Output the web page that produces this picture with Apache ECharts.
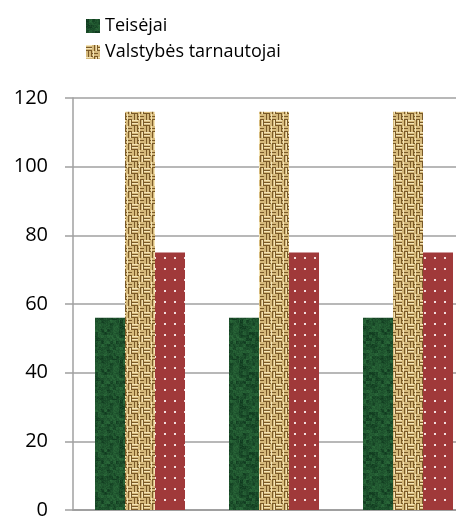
<!DOCTYPE html>
<html>
<head>
<meta charset="utf-8">
<script src="https://cdn.jsdelivr.net/npm/echarts@6/dist/echarts.min.js"></script>
<style>
  html, body { margin: 0; padding: 0; background: #fff; }
  #chart { width: 456px; height: 517px; }
</style>
</head>
<body>
<div id="chart"></div>
<script>
var categories = ['1', '2', '3'];
var teisejai = [56, 56, 56];
var valstybes = [116, 116, 116];
var kiti = [75, 75, 75];
var yTicks = [0, 20, 40, 60, 80, 100, 120];

// deterministic hash for texture noise
function hash(x, y) {
    var s = Math.sin(x * 12.9898 + y * 78.233) * 43758.5453;
    return s - Math.floor(s);
}

// green marble texture
function greenTile() {
    var c = document.createElement('canvas');
    c.width = 40; c.height = 40;
    var ctx = c.getContext('2d');
    for (var y = 0; y < 40; y++) {
        for (var x = 0; x < 40; x++) {
            var n = hash(Math.floor(x / 3), Math.floor(y / 3)) * 0.6 + hash(x, y) * 0.4;
            ctx.fillStyle = 'rgb(' + Math.round(15 + n * 30) + ',' + Math.round(55 + n * 55) + ',' + Math.round(30 + n * 30) + ')';
            ctx.fillRect(x, y, 1, 1);
        }
    }
    return c;
}

// tan woven texture
function tanTile() {
    var c = document.createElement('canvas');
    c.width = 12; c.height = 12;
    var ctx = c.getContext('2d');
    ctx.fillStyle = '#d6ba7c';
    ctx.fillRect(0, 0, 12, 12);
    ctx.fillStyle = '#7a5a28';
    ctx.fillRect(0, 2, 6, 1);
    ctx.fillRect(0, 5, 6, 1);
    ctx.fillRect(6, 8, 6, 1);
    ctx.fillRect(6, 11, 6, 1);
    ctx.fillRect(8, 0, 1, 6);
    ctx.fillRect(11, 0, 1, 6);
    ctx.fillRect(2, 6, 1, 6);
    ctx.fillRect(5, 6, 1, 6);
    ctx.fillStyle = '#f3e3b5';
    ctx.fillRect(0, 0, 6, 1);
    ctx.fillRect(0, 3, 6, 1);
    ctx.fillRect(7, 6, 1, 6);
    ctx.fillRect(10, 0, 1, 6);
    return c;
}

// red with white dots
function redTile() {
    var c = document.createElement('canvas');
    c.width = 10; c.height = 11;
    var ctx = c.getContext('2d');
    ctx.fillStyle = '#a0393a';
    ctx.fillRect(0, 0, 10, 11);
    ctx.fillStyle = '#f2dede';
    ctx.fillRect(4, 4, 2, 2);
    return c;
}

var chart = echarts.init(document.getElementById('chart'));
var gray = '#a0a0a0';

chart.setOption({
    animation: false,
    legend: {
        orient: 'vertical',
        left: 81,
        top: 12,
        itemWidth: 14,
        itemHeight: 14,
        itemGap: 8,
        icon: 'rect',
        data: ['Teisėjai', 'Valstybės tarnautojai'],
        textStyle: {
            fontFamily: 'Open Sans',
            fontSize: 18,
            color: '#000'
        }
    },
    grid: {
        left: 73,
        top: 98,
        width: 402,
        bottom: 7,
        outerBoundsMode: 'none',
        containLabel: false
    },
    xAxis: {
        type: 'category',
        data: categories,
        axisLine: { lineStyle: { color: gray, width: 2 } },
        axisTick: { show: false },
        axisLabel: { show: false }
    },
    yAxis: {
        type: 'value',
        min: 0,
        max: 120,
        interval: 20,
        axisLine: { show: true, lineStyle: { color: gray, width: 1.5 } },
        axisTick: { show: true, length: 8, lineStyle: { color: gray, width: 1.5 } },
        splitLine: { lineStyle: { color: gray, width: 1.5 } },
        axisLabel: {
            margin: 25,
            fontFamily: 'Open Sans',
            fontSize: 20,
            color: '#000',
            formatter: function (v) { return yTicks.indexOf(v) >= 0 ? String(v) : ''; }
        }
    },
    series: [{
        name: 'Teisėjai',
        type: 'bar',
        data: teisejai,
        barWidth: 30,
        barGap: 0,
        itemStyle: { color: { image: greenTile(), repeat: 'repeat' } }
    }, {
        name: 'Valstybės tarnautojai',
        type: 'bar',
        data: valstybes,
        barWidth: 30,
        barGap: 0,
        itemStyle: { color: { image: tanTile(), repeat: 'repeat' } }
    }, {
        name: 'Kiti',
        type: 'bar',
        data: kiti,
        barWidth: 30,
        barGap: 0,
        itemStyle: { color: { image: redTile(), repeat: 'repeat' } }
    }]
});
</script>
</body>
</html>
